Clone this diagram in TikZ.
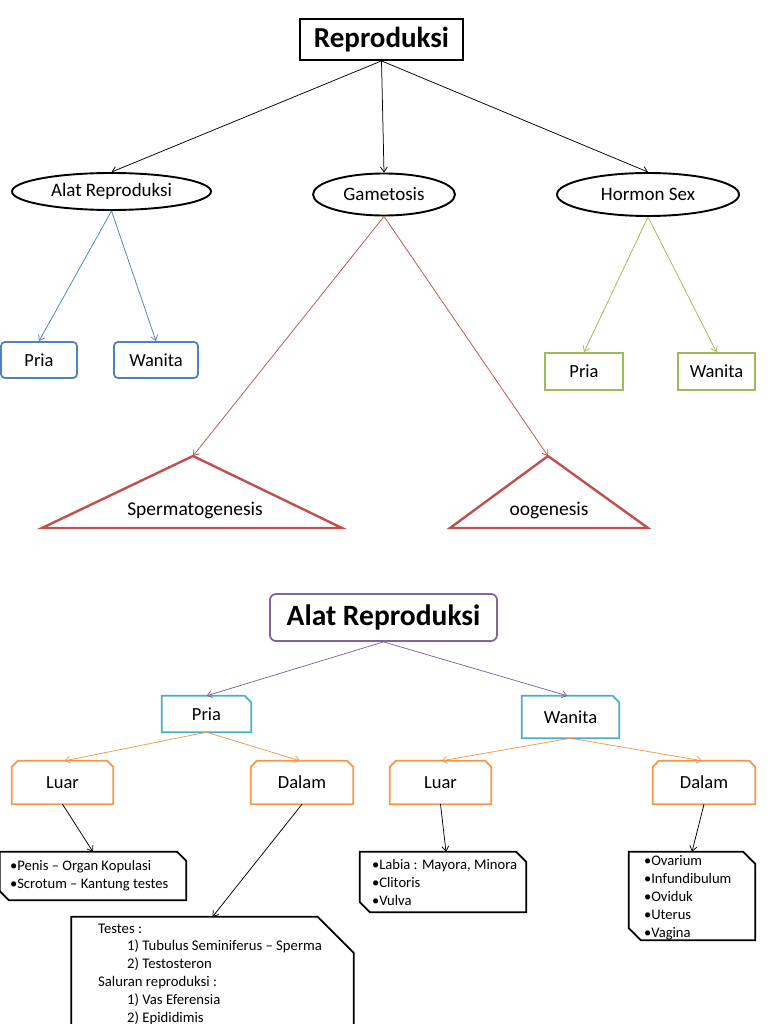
\documentclass[tikz,border=0pt]{standalone}
\usepackage{fontspec}
\setmainfont{Carlito}
\usetikzlibrary{arrows.meta,shapes.geometric}
\definecolor{blueC}{HTML}{4F81BD}
\definecolor{redC}{HTML}{C0504D}
\definecolor{greenC}{HTML}{9BBB59}
\definecolor{purpleC}{HTML}{8064A2}
\definecolor{cyanC}{HTML}{4BACC6}
\definecolor{orangeC}{HTML}{F79646}
% #1 node, #2 style, #3 NE, #4 NW, #5 SE, #6 SW chamfer sizes
\newcommand{\chamfbox}[6]{%
  \draw[#2] ([xshift=#4]#1.north west) -- ([xshift=-#3]#1.north east)
    -- ([yshift=-#3]#1.north east) -- ([yshift=#5]#1.south east)
    -- ([xshift=-#5]#1.south east) -- ([xshift=#6]#1.south west)
    -- ([yshift=#6]#1.south west) -- ([yshift=-#4]#1.north west) -- cycle;}
\begin{document}
\begin{tikzpicture}[x=1pt,y=-1pt,
  conn/.style={-{Straight Barb[length=5pt,width=7pt]}, line width=0.75pt},
  topbox/.style={draw, line width=1.8pt, inner sep=0pt, font=\fontsize{29}{31}\selectfont\bfseries},
  ell/.style={ellipse, draw, line width=1.9pt, inner sep=0pt, font=\fontsize{19}{21}\selectfont},
  bluebox/.style={draw=blueC, rounded corners=4pt, line width=1.8pt, inner sep=0pt, minimum height=36pt, font=\fontsize{18.5}{20}\selectfont},
  greenbox/.style={draw=greenC, line width=1.8pt, inner sep=0pt, minimum height=37pt, font=\fontsize{18.5}{20}\selectfont},
  tritext/.style={font=\fontsize{19.5}{21}\selectfont, inner sep=0pt},
  hole/.style={draw=none, inner sep=0pt},
  lbl/.style={inner sep=0pt, font=\fontsize{18.5}{20}\selectfont},
  bullet/.style={inner sep=0pt, align=left, font=\fontsize{14.6}{18}\selectfont},
  chamfline/.style={line width=1.8pt, line join=miter},
]
\useasboundingbox (0,0) rectangle (768,1024);
\clip (0,0) rectangle (768,1024);

% ---------- top diagram ----------
\node[topbox, minimum width=163pt, minimum height=41pt] (rep) at (381.5,39.5) {Reproduksi};

\node[ell, minimum width=199pt, minimum height=37pt] (alat) at (111.5,191.5) {Alat Reproduksi};
\node[ell, minimum width=142pt, minimum height=42pt] (game) at (384,194.5) {Gametosis};
\node[ell, minimum width=182pt, minimum height=43pt] (horm) at (648,194.5) {Hormon Sex};

\draw[conn] (rep.south) -- (alat.north);
\draw[conn] (rep.south) -- (game.north);
\draw[conn] (rep.south) -- (horm.north);

\node[bluebox, minimum width=76pt] (bpria) at (39,360) {Pria};
\node[bluebox, minimum width=84pt] (bwan) at (156,360) {Wanita};
\draw[conn, draw=blueC] (alat.south) -- (bpria.north);
\draw[conn, draw=blueC] (alat.south) -- (bwan.north);

\node[greenbox, minimum width=78pt] (gpria) at (584,371.5) {Pria};
\node[greenbox, minimum width=77pt] (gwan) at (716.5,371.5) {Wanita};
\draw[conn, draw=greenC] (horm.south) -- (gpria.north);
\draw[conn, draw=greenC] (horm.south) -- (gwan.north);

\coordinate (sa) at (193,456);
\coordinate (sl) at (42,528);
\coordinate (sr) at (342,528);
\coordinate (oa) at (548,456);
\coordinate (ol) at (450,528);
\coordinate (or) at (648,528);
\draw[draw=redC, line width=2.4pt, line join=miter] (sa) -- (sr) -- (sl) -- cycle;
\draw[draw=redC, line width=2.4pt, line join=miter] (oa) -- (or) -- (ol) -- cycle;
\node[tritext] (sp) at (195,510) {Spermatogenesis};
\node[tritext] (oo) at (549,510) {oogenesis};
\draw[conn, draw=redC] (game.south) -- (sa);
\draw[conn, draw=redC] (game.south) -- (oa);

% ---------- bottom diagram ----------
\node[draw=purpleC, rounded corners=6pt, line width=1.8pt, inner sep=0pt,
      minimum width=227pt, minimum height=47pt,
      font=\fontsize{29.5}{31}\selectfont\bfseries] (ar) at (383.5,617.5) {Alat Reproduksi};

\node[hole, minimum width=89pt, minimum height=36pt] (cpria) at (206.5,714) {};
\node[lbl] at (cpria) {Pria};
\chamfbox{cpria}{chamfline, draw=cyanC}{6.5pt}{0pt}{0pt}{0pt}
\node[hole, minimum width=97pt, minimum height=42pt] (cwan) at (570.5,717) {};
\node[lbl] at (cwan) {Wanita};
\chamfbox{cwan}{chamfline, draw=cyanC}{6.5pt}{0pt}{0pt}{0pt}

\draw[conn, draw=purpleC] (ar.south) -- (cpria.north);
\draw[conn, draw=purpleC] (ar.south) -- ([xshift=-3pt]cwan.north);

\node[hole, minimum width=101pt, minimum height=43pt] (luar1) at (62.5,782.5) {};
\node[lbl] at (luar1) {Luar};
\chamfbox{luar1}{chamfline, draw=orangeC}{6pt}{6pt}{0pt}{0pt}
\node[hole, minimum width=102pt, minimum height=43pt] (dalam1) at (302,782.5) {};
\node[lbl] at (dalam1) {Dalam};
\chamfbox{dalam1}{chamfline, draw=orangeC}{6pt}{6pt}{0pt}{0pt}
\node[hole, minimum width=101pt, minimum height=43pt] (luar2) at (440.5,782.5) {};
\node[lbl] at (luar2) {Luar};
\chamfbox{luar2}{chamfline, draw=orangeC}{6pt}{6pt}{0pt}{0pt}
\node[hole, minimum width=102pt, minimum height=43pt] (dalam2) at (704,782.5) {};
\node[lbl] at (dalam2) {Dalam};
\chamfbox{dalam2}{chamfline, draw=orangeC}{6pt}{6pt}{0pt}{0pt}

\draw[conn, draw=orangeC] (cpria.south) -- ([xshift=2pt]luar1.north);
\draw[conn, draw=orangeC] (cpria.south) -- ([xshift=-2pt]dalam1.north);
\draw[conn, draw=orangeC] (cwan.south) -- ([xshift=1pt]luar2.north);
\draw[conn, draw=orangeC] (cwan.south) -- ([xshift=-2pt]dalam2.north);

\node[hole, minimum width=186pt, minimum height=48pt] (penis) at (93,876) {};
\chamfbox{penis}{chamfline}{9pt}{0pt}{0pt}{9pt}
\node[bullet, anchor=west] (penist) at ([xshift=10pt]penis.west)
  {•Penis – Organ Kopulasi\\•Scrotum – Kantung testes};

\node[hole, minimum width=166pt, minimum height=60pt] (labia) at (443,882) {};
\chamfbox{labia}{chamfline}{10pt}{0pt}{0pt}{10pt}
\node[bullet, anchor=west] (labiat) at ([xshift=12pt]labia.west)
  {•Labia : Mayora, Minora\\•Clitoris\\•Vulva};

\node[hole, minimum width=126pt, minimum height=88pt] (ovar) at (692,896) {};
\chamfbox{ovar}{chamfline}{12pt}{0pt}{0pt}{12pt}
\node[bullet, anchor=west] (ovart) at ([xshift=15pt,yshift=-1.5pt]ovar.west)
  {•Ovarium\\•Infundibulum\\•Oviduk\\•Uterus\\•Vagina};

\node[hole, minimum width=282pt, minimum height=136pt] (big) at (212.5,985) {};
\chamfbox{big}{chamfline}{36pt}{0pt}{0pt}{0pt}
\node[bullet, anchor=north west, font=\fontsize{14.7}{17.8}\selectfont] (bigt) at (98,923.5)
  {Testes :\\
   \hspace*{29pt}1) Tubulus Seminiferus – Sperma\\
   \hspace*{29pt}2) Testosteron\\
   Saluran reproduksi :\\
   \hspace*{29pt}1) Vas Eferensia\\
   \hspace*{29pt}2) Epididimis};

\draw[conn] (luar1.south) -- (penis.north);
\draw[conn] (dalam1.south) -- (big.north);
\draw[conn] (luar2.south) -- ([xshift=3pt]labia.north);
\draw[conn] (dalam2.south) -- (ovar.north);
\end{tikzpicture}
\end{document}
